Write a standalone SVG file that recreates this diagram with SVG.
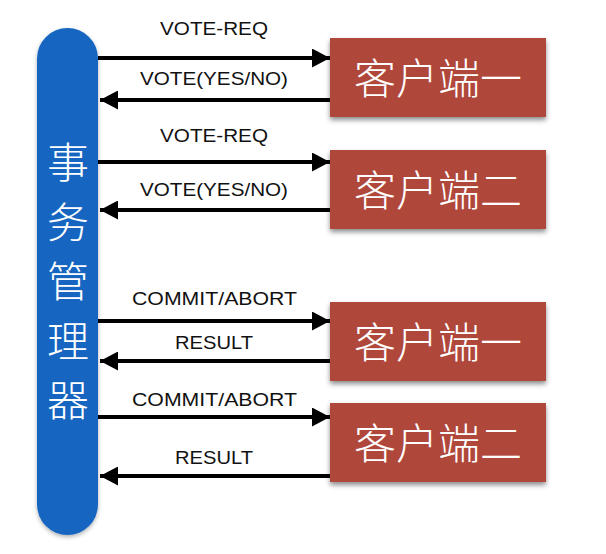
<svg xmlns="http://www.w3.org/2000/svg" width="606" height="554" viewBox="0 0 606 554">
<defs>
<filter id="sh" x="-10%" y="-10%" width="120%" height="130%">
<feDropShadow dx="0" dy="3" stdDeviation="2.5" flood-color="#000" flood-opacity="0.45"/>
</filter>
<filter id="sh2" x="-20%" y="-5%" width="140%" height="110%">
<feDropShadow dx="0" dy="2" stdDeviation="2" flood-color="#000" flood-opacity="0.3"/>
</filter>
<marker id="ah" viewBox="0 0 18 19" refX="18" refY="9.5" markerWidth="18" markerHeight="19" markerUnits="userSpaceOnUse" orient="auto">
<path d="M0,0 L18,9.5 L0,19 Z" fill="#000"/>
</marker>
<style>
.box{fill:#b0473a;filter:url(#sh);}
.cn{font-family:"Noto Sans CJK SC","Noto Sans CJK JP",sans-serif;font-size:42px;font-weight:300;fill:#fff;text-anchor:middle;}
.lbl{font-family:"Liberation Sans",Arial,sans-serif;font-size:18px;fill:#111;text-anchor:middle;}
.ln{stroke:#000;stroke-width:4;fill:none;marker-end:url(#ah);}
</style>
</defs>
<rect width="606" height="554" fill="#fff"/>
<g id="manager">
<rect x="37" y="28" width="61" height="507" rx="30.5" ry="30.5" fill="#1565c0" filter="url(#sh2)"/>
<text class="cn" x="68" y="178">事</text>
<text class="cn" x="68" y="237.5">务</text>
<text class="cn" x="68" y="297">管</text>
<text class="cn" x="68" y="356.5">理</text>
<text class="cn" x="68" y="416">器</text>
</g>
<g id="client1a">
<rect class="box" x="330" y="38" width="216" height="79"/>
<text class="cn" x="438" y="94">客户端一</text>
</g>
<g id="client2a">
<rect class="box" x="330" y="150" width="216" height="79"/>
<text class="cn" x="438" y="206">客户端二</text>
</g>
<g id="client1b">
<rect class="box" x="330" y="302" width="216" height="79"/>
<text class="cn" x="438" y="358">客户端一</text>
</g>
<g id="client2b">
<rect class="box" x="330" y="403" width="216" height="79"/>
<text class="cn" x="438" y="459">客户端二</text>
</g>
<g id="connectors">
<line class="ln" x1="98" y1="58" x2="330" y2="58"/>
<line class="ln" x1="330" y1="100" x2="100" y2="100"/>
<line class="ln" x1="98" y1="162" x2="330" y2="162"/>
<line class="ln" x1="330" y1="210" x2="100" y2="210"/>
<line class="ln" x1="98" y1="321" x2="330" y2="321"/>
<line class="ln" x1="330" y1="361" x2="100" y2="361"/>
<line class="ln" x1="98" y1="417" x2="330" y2="417"/>
<line class="ln" x1="330" y1="476" x2="100" y2="476"/>
<text class="lbl" x="214" y="35" textLength="108" lengthAdjust="spacingAndGlyphs">VOTE-REQ</text>
<text class="lbl" x="214" y="85" textLength="148" lengthAdjust="spacingAndGlyphs">VOTE(YES/NO)</text>
<text class="lbl" x="214" y="142" textLength="108" lengthAdjust="spacingAndGlyphs">VOTE-REQ</text>
<text class="lbl" x="214" y="196" textLength="148" lengthAdjust="spacingAndGlyphs">VOTE(YES/NO)</text>
<text class="lbl" x="214.5" y="305" textLength="165" lengthAdjust="spacingAndGlyphs">COMMIT/ABORT</text>
<text class="lbl" x="214" y="349" textLength="78" lengthAdjust="spacingAndGlyphs">RESULT</text>
<text class="lbl" x="214.5" y="406" textLength="165" lengthAdjust="spacingAndGlyphs">COMMIT/ABORT</text>
<text class="lbl" x="214" y="464" textLength="78" lengthAdjust="spacingAndGlyphs">RESULT</text>
</g>
</svg>
